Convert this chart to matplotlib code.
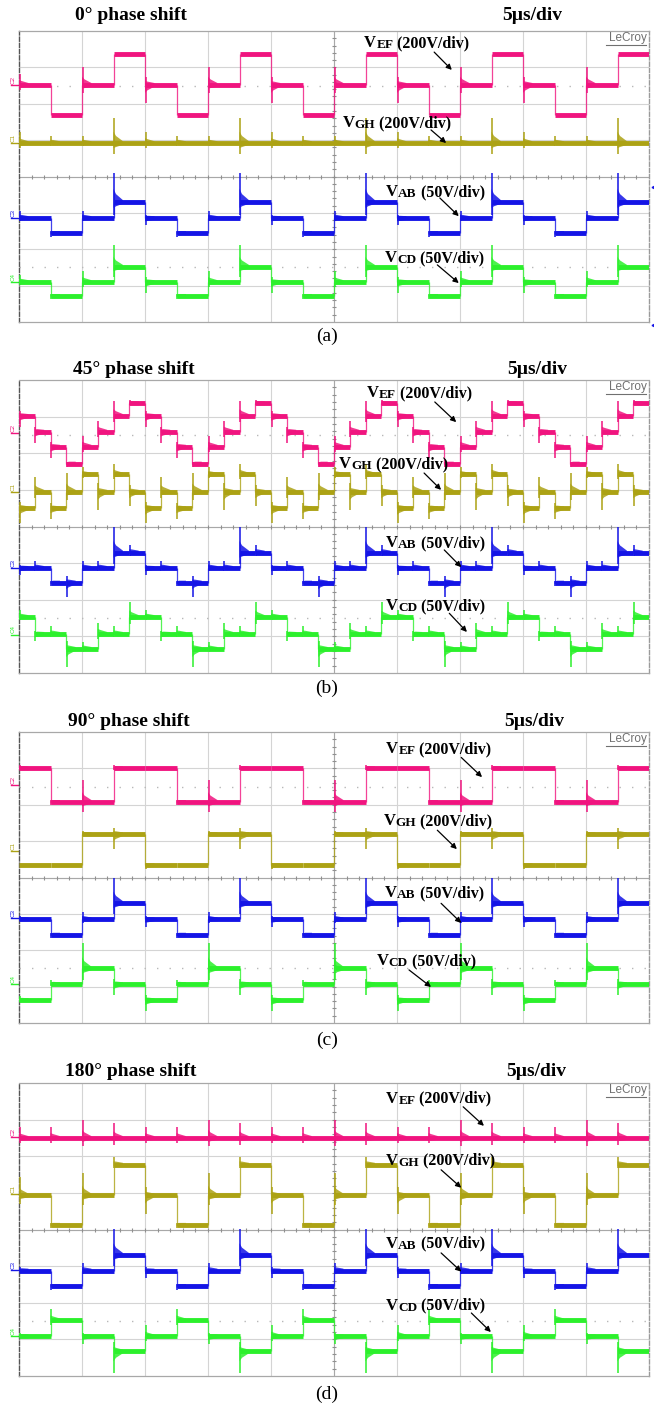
import numpy as np
import matplotlib.pyplot as plt
from matplotlib.patches import Polygon

SERIF = ['Liberation Serif', 'DejaVu Serif']
SANS = ['Liberation Sans', 'DejaVu Sans']

PINK = '#f0147f'
OLIVE = '#aca214'
BLUE = '#1414e6'
GREEN = '#2cf02c'

# ---- panel (a): 0 deg, one code per half division ----
A_STEP = 0.5
A_EF = "mlmhmlmhmlmhmlmhmlmh"
A_EF_LEV = {'h': 7.38, 'm': 6.52, 'l': 5.68}
A_EF_RING = [3, 0, 5, 0, -5, 0, 5, 0, -5, 0, 5, 0, -5, 0, 5, 0, -5, 0, 5, 0]
A_GH = "mmmmmmmmmmmmmmmmmmmm"
A_GH_LEV = {'m': 4.92}
A_GH_RING = [3, 2, 2, 7, 3, 2, 2, 7, 3, 2, 2, 7, 3, 2, 2, 7, 3, 2, 2, 7]
A_AB = "mlmhmlmhmlmhmlmhmlmh"
A_AB_LEV = {'h': 3.30, 'm': 2.86, 'l': 2.45}
A_AB_RING = [2, -1, 2, 8, -2, -1, 2, 8, -2, -1, 2, 8, -2, -1, 2, 8, -2, -1, 2, 8]
A_CD = "mlmhmlmhmlmhmlmhmlmh"
A_CD_LEV = {'h': 1.52, 'm': 1.10, 'l': 0.72}
A_CD_RING = [2, -1, 3, 6, -3, -1, 3, 6, -3, -1, 3, 6, -3, -1, 3, 6, -3, -1, 3, 6]
A_GND = [6.52, 4.92, 2.86, 1.10]

# ---- panel (b): 45 deg, one code per quarter division ----
B_STEP = 0.25
B_EF = "1234321012343210123432101234321012343210"
B_EF_LEV = {'0': 7.36, '1': 7.02, '2': 6.59, '3': 6.18, '4': 5.72}
B_EF_RING = [-3, -3, -3, -1, 3, 3, 4, 1, -3, -3, -3, -1, 3, 3, 4, 1, -3, -3, -3, -1,
             3, 3, 4, 1, -3, -3, -3, -1, 3, 3, 4, 1, -3, -3, -3, -1, 3, 3, 4, 1]
B_GH = "lmlmhmhmlmlmhmhmlmlmhmhmlmlmhmhmlmlmhmhm"
B_GH_LEV = {'h': 5.42, 'm': 4.95, 'l': 4.50}
B_GH_RING = [-4, 4, -3, 5, 2, -5, 3, -4, -4, 4, -3, 5, 2, -5, 3, -4, -4, 4, -3, 5,
             2, -5, 3, -4, -4, 4, -3, 5, 2, -5, 3, -4, -4, 4, -3, 5, 2, -5, 3, -4]
B_AB = "mmllmmhhmmllmmhhmmllmmhhmmllmmhhmmllmmhh"
B_AB_LEV = {'h': 3.29, 'm': 2.87, 'l': 2.47}
B_AB_RING = [-2, 2, -1, -4, 2, 2, 7, 2, -2, 2, -1, -4, 2, 2, 7, 2, -2, 2, -1, -4,
             2, 2, 7, 2, -2, 2, -1, -4, 2, 2, 7, 2, -2, 2, -1, -4, 2, 2, 7, 2]
B_CD = "hmmllmmhhmmllmmhhmmllmmhhmmllmmhhmmllmmh"
B_CD_LEV = {'h': 1.53, 'm': 1.07, 'l': 0.66}
B_CD_RING = [2, -2, 2, -5, 2, 3, 2, 4, 2, -2, 2, -5, 2, 3, 2, 4, 2, -2, 2, -5,
             2, 3, 2, 4, 2, -2, 2, -5, 2, 3, 2, 4, 2, -2, 2, -5, 2, 3, 2, 4]
B_GND = [6.55, 4.95, 2.87, 1.05]

# ---- panel (c): 90 deg ----
C_STEP = 0.5
C_EF = "hllhhllhhllhhllhhllh"
C_EF_LEV = {'h': 7.00, 'l': 6.08}
C_EF_RING = [1, -1, 6, 1, 0, -1, 6, 1, 0, -1, 6, 1, 0, -1, 6, 1, 0, -1, 6, 1]
C_GH = "llhhllhhllhhllhhllhh"
C_GH_LEV = {'h': 5.19, 'l': 4.34}
C_GH_RING = [0, 0, 1, -4, -1, 0, 1, -4, -1, 0, 1, -4, -1, 0, 1, -4, -1, 0, 1, -4]
C_AB = "mlmhmlmhmlmhmlmhmlmh"
C_AB_LEV = {'h': 3.30, 'm': 2.85, 'l': 2.43}
C_AB_RING = [1, -1, 2, 7, -2, -1, 2, 7, -2, -1, 2, 7, -2, -1, 2, 7, -2, -1, 2, 7]
C_CD = "lmhmlmhmlmhmlmhmlmhm"
C_CD_LEV = {'h': 1.50, 'm': 1.07, 'l': 0.63}
C_CD_RING = [1, 1, 7, -3, -3, 1, 7, -3, -3, 1, 7, -3, -3, 1, 7, -3, -3, 1, 7, -3]
C_GND = [6.53, 4.72, 2.88, 1.08]

# ---- panel (d): 180 deg ----
D_STEP = 0.5
D_EF = "mmmmmmmmmmmmmmmmmmmm"
D_EF_LEV = {'m': 6.50}
D_EF_RING = [3, 3, 5, 4, 3, 3, 5, 4, 3, 3, 5, 4, 3, 3, 5, 4, 3, 3, 5, 4]
D_GH = "mlmhmlmhmlmhmlmhmlmh"
D_GH_LEV = {'h': 5.77, 'm': 4.93, 'l': 4.13}
D_GH_RING = [5, -1, 6, 2, -5, -1, 6, 2, -5, -1, 6, 2, -5, -1, 6, 2, -5, -1, 6, 2]
D_AB = "mlmhmlmhmlmhmlmhmlmh"
D_AB_LEV = {'h': 3.31, 'm': 2.88, 'l': 2.46}
D_AB_RING = [1, -1, 2, 7, -2, -1, 2, 7, -2, -1, 2, 7, -2, -1, 2, 7, -2, -1, 2, 7]
D_CD = "mhmlmhmlmhmlmhmlmhml"
D_CD_LEV = {'h': 1.52, 'm': 1.08, 'l': 0.67}
D_CD_RING = [1, 3, -2, -6, 3, 3, -2, -6, 3, 3, -2, -6, 3, 3, -2, -6, 3, 3, -2, -6]
D_GND = [6.52, 4.96, 2.89, 1.08]

TITLES = ['0\u00b0 phase shift', '45\u00b0 phase shift', '90\u00b0 phase shift', '180\u00b0 phase shift']
CAPTIONS = ['(a)', '(b)', '(c)', '(d)']
CH_NAMES = ['C2', 'C1', 'C3', 'C4']
COLORS = [PINK, OLIVE, BLUE, GREEN]
LABEL_SUB = ['EF', 'GH', 'AB', 'CD']
LABEL_SCALE = ['(200V/div)', '(200V/div)', '(50V/div)', '(50V/div)']

# screen boxes in pixels (left, top, right, bottom) and title row
W, H = 654, 1405
SCREENS = [(19, 31, 649, 322), (19, 380, 649, 673), (19, 732, 649, 1023), (19, 1083, 649, 1376)]
TITLE_Y = [15, 370, 722, 1072]
TITLE_X = [75, 73, 68, 65]
TIME_X = [502, 507, 504, 506]
CAPTION_Y = [336, 688, 1040, 1394]

# label text (t, y) and arrow (t1, y1, t2, y2) in screen divisions
LABELS = [
    [(5.48, 7.56, 6.59, 7.42, 6.87, 6.93), (5.14, 5.36, 6.54, 5.28, 6.78, 4.92),
     (5.83, 3.46, 6.68, 3.41, 6.98, 2.91), (5.81, 1.65, 6.64, 1.57, 6.98, 1.07)],
    [(5.52, 7.53, 6.60, 7.40, 6.94, 6.85), (5.08, 5.60, 6.43, 5.46, 6.70, 5.00),
     (5.83, 3.44, 6.75, 3.36, 7.02, 2.89), (5.83, 1.72, 6.83, 1.63, 7.11, 1.12)],
    [(5.83, 7.42, 7.02, 7.30, 7.35, 6.76), (5.79, 5.44, 6.64, 5.30, 6.95, 4.78),
     (5.81, 3.46, 6.70, 3.29, 7.02, 2.75), (5.68, 1.59, 6.19, 1.46, 6.54, 0.99)],
    [(5.83, 7.46, 7.05, 7.35, 7.38, 6.83), (5.83, 5.77, 6.70, 5.63, 7.02, 5.14),
     (5.83, 3.50, 6.70, 3.36, 7.02, 2.85), (5.83, 1.81, 7.18, 1.72, 7.49, 1.20)],
]

PANELS = [
    (A_STEP, [(A_EF, A_EF_LEV, A_EF_RING), (A_GH, A_GH_LEV, A_GH_RING),
              (A_AB, A_AB_LEV, A_AB_RING), (A_CD, A_CD_LEV, A_CD_RING)], A_GND),
    (B_STEP, [(B_EF, B_EF_LEV, B_EF_RING), (B_GH, B_GH_LEV, B_GH_RING),
              (B_AB, B_AB_LEV, B_AB_RING), (B_CD, B_CD_LEV, B_CD_RING)], B_GND),
    (C_STEP, [(C_EF, C_EF_LEV, C_EF_RING), (C_GH, C_GH_LEV, C_GH_RING),
              (C_AB, C_AB_LEV, C_AB_RING), (C_CD, C_CD_LEV, C_CD_RING)], C_GND),
    (D_STEP, [(D_EF, D_EF_LEV, D_EF_RING), (D_GH, D_GH_LEV, D_GH_RING),
              (D_AB, D_AB_LEV, D_AB_RING), (D_CD, D_CD_LEV, D_CD_RING)], D_GND),
]


def draw_trace(ax, codes, levels, rings, dt, color):
    y = np.array([levels[c] for c in codes])
    t = np.arange(len(y)) * dt
    hl = ax.hlines(y, t, t + dt, colors=color, lw=3.5, zorder=3)
    hl.set_capstyle('butt')
    ax.vlines(t[1:], y[:-1], y[1:], colors=color, lw=0.9, alpha=0.8, zorder=3)
    for ti, yi, r in zip(t, y, rings):
        if r == 0:
            continue
        amp = abs(r) / 10.0
        up = amp if r > 0 else 0.45 * amp
        dn = amp if r < 0 else 0.45 * amp
        ax.vlines(ti + 0.01, yi - dn, yi + up, colors=color, lw=1.1, zorder=3)
        # decaying ringing envelope after the edge
        env = [(ti, yi + 0.45 * up), (ti + 0.04, yi + 0.22 * up + 0.04), (ti + 0.15, yi + 0.05),
               (ti + 0.15, yi - 0.05), (ti + 0.04, yi - 0.22 * dn - 0.04), (ti, yi - 0.45 * dn)]
        ax.add_patch(Polygon(env, closed=True, facecolor=color, edgecolor='none', alpha=0.85, zorder=3))


def draw_label(ax, x, y, sub, scale):
    v = ax.text(x, y, 'V', fontsize=12, fontweight='bold', family=SERIF, va='baseline', ha='left', zorder=5)
    s = ax.annotate(sub, xy=(1, 0), xycoords=v, fontsize=9.5, fontweight='bold', family=SERIF,
                    va='bottom', ha='left', zorder=5)
    ax.annotate(' ' + scale, xy=(1, 0), xycoords=s, fontsize=11.5, fontweight='bold', family=SERIF,
                va='bottom', ha='left', zorder=5)


fig = plt.figure(figsize=(W / 100, H / 100), dpi=100)

for p, (dt, chans, gnd) in enumerate(PANELS):
    l, tp, r, b = SCREENS[p]
    ax = fig.add_axes([l / W, 1 - b / H, (r - l) / W, (b - tp) / H])
    ax.set_xlim(0, 10)
    ax.set_ylim(0, 8)
    ax.set_xticks([])
    ax.set_yticks([])
    for k in range(1, 10):
        ax.axvline(k, color='#d4d4d4', lw=0.8, zorder=1)
    for k in range(1, 8):
        ax.axhline(k, color='#d4d4d4', lw=0.8, zorder=1)
    ax.axhline(6.5, color='#b8b8b8', lw=1.0, ls=(0, (1, 8)), zorder=1)
    ax.axhline(1.5, color='#b8b8b8', lw=1.0, ls=(0, (1, 8)), zorder=1)
    # centre cross with minor ticks
    ax.axvline(5, color='#a8a8a8', lw=0.8, zorder=1)
    ax.axhline(4, color='#a8a8a8', lw=0.8, zorder=1)
    ax.plot(np.arange(0.2, 10, 0.2), np.full(49, 4.0), '|', ms=3, color='#909090', mew=0.8, zorder=1)
    ax.plot(np.full(39, 5.0), np.arange(0.2, 8, 0.2), '_', ms=3, color='#909090', mew=0.8, zorder=1)
    for side in ['top', 'bottom']:
        ax.spines[side].set_color('#a8a8a8')
        ax.spines[side].set_linewidth(0.9)
    ax.spines['left'].set_color('#555555')
    ax.spines['left'].set_linestyle((0, (3, 1.5)))
    ax.spines['left'].set_linewidth(1.0)
    ax.spines['right'].set_color('#9a9a9a')
    ax.spines['right'].set_linestyle((0, (3, 1.5)))
    ax.spines['right'].set_linewidth(1.0)

    for (codes, levels, rings), col, g, name in zip(chans, COLORS, gnd, CH_NAMES):
        draw_trace(ax, codes, levels, rings, dt, col)
        ax.plot([-0.12, -0.01], [g, g], color=col, lw=1.0, clip_on=False)
        ax.text(-0.1, g + 0.03, name, rotation=90, fontsize=4.5, color=col, family=SANS,
                ha='center', va='bottom', clip_on=False)

    for (x, y, x1, y1, x2, y2), sub, scale in zip(LABELS[p], LABEL_SUB, LABEL_SCALE):
        draw_label(ax, x, y, sub, scale)
        ax.annotate('', xy=(x2, y2), xytext=(x1, y1),
                    arrowprops=dict(arrowstyle='-|>', color='black', lw=0.9, mutation_scale=8,
                                    shrinkA=0, shrinkB=0), zorder=5)

    ax.text(0.996, 0.976, 'LeCroy', transform=ax.transAxes, ha='right', va='center',
            fontsize=8.5, color='#707070', family=SANS, zorder=5)
    ax.plot([0.932, 0.996], [0.953, 0.953], transform=ax.transAxes, color='#707070', lw=0.8, zorder=5)

    if p == 0:
        ax.plot([10.08], [3.71], marker='<', ms=3.5, color=BLUE, clip_on=False)
        ax.plot([10.08], [-0.08], marker='<', ms=3.5, color=BLUE, clip_on=False)

    fig.text(TITLE_X[p] / W, 1 - TITLE_Y[p] / H, TITLES[p], fontsize=14, fontweight='bold',
             family=SERIF, ha='left', va='center')
    fig.text(TIME_X[p] / W, 1 - TITLE_Y[p] / H, '5\u00b5s/div', fontsize=14, fontweight='bold',
             family=SERIF, ha='left', va='center')
    fig.text(327 / W, 1 - CAPTION_Y[p] / H, CAPTIONS[p], fontsize=14, family=SERIF,
             ha='center', va='center')

fig.savefig('out.png', dpi=100)
